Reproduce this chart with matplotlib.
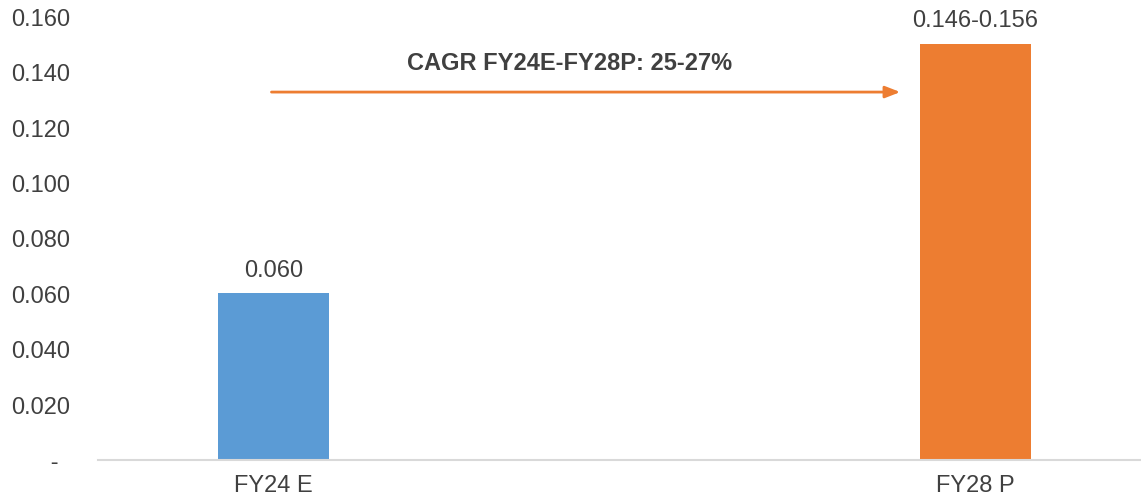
import matplotlib.pyplot as plt

plt.rcParams["font.family"] = ["Liberation Sans", "DejaVu Sans"]

categories = ["FY24 E", "FY28 P"]
values = [0.060, 0.150]
bar_labels = ["0.060", "0.146-0.156"]
bar_colors = ["#5B9BD5", "#ED7D31"]
y_ticks = [0.0, 0.02, 0.04, 0.06, 0.08, 0.10, 0.12, 0.14, 0.16]
cagr_text = "CAGR FY24E-FY28P: 25-27%"

text_color = "#404040"

fig = plt.figure(figsize=(11.41, 5.02), dpi=100)
ax = fig.add_axes([0.086, 0.082, 0.914, 0.884])

x = list(range(len(categories)))
ax.bar(x, values, width=0.158, color=bar_colors, zorder=2)

for xi, v, lab in zip(x, values, bar_labels):
    ax.text(xi, v + 0.0045, lab, ha="center", va="bottom",
            fontsize=17, color=text_color)

# arrow showing growth
ax.annotate("", xy=(0.893, 0.1326), xytext=(-0.003, 0.1326),
            arrowprops=dict(arrowstyle="-|>,head_length=0.9,head_width=0.35",
                            color="#ED7D31", lw=2, shrinkA=0, shrinkB=0))
ax.text(0.422, 0.1432, cagr_text, ha="center", va="center",
        fontsize=17, fontweight="bold", color=text_color)

ax.set_xlim(-0.25, 1.236)
ax.set_ylim(0, 0.16)
ax.set_xticks(x)
ax.set_xticklabels(categories, fontsize=17, color=text_color)
ax.set_yticks(y_ticks)
# zero shown as accounting dash
ax.set_yticklabels(["      -"] + ["%.3f" % t for t in y_ticks[1:]],
                   fontsize=17, color=text_color)
ax.tick_params(axis="both", length=0)
ax.tick_params(axis="x", pad=10)
for s in ["top", "right", "left"]:
    ax.spines[s].set_visible(False)
ax.spines["bottom"].set_color("#D9D9D9")
ax.spines["bottom"].set_linewidth(1.5)

# y labels are left-aligned in reference
for lab in ax.get_yticklabels():
    lab.set_horizontalalignment("left")
ax.tick_params(axis="y", pad=63)

fig.savefig("out.png", dpi=100)
